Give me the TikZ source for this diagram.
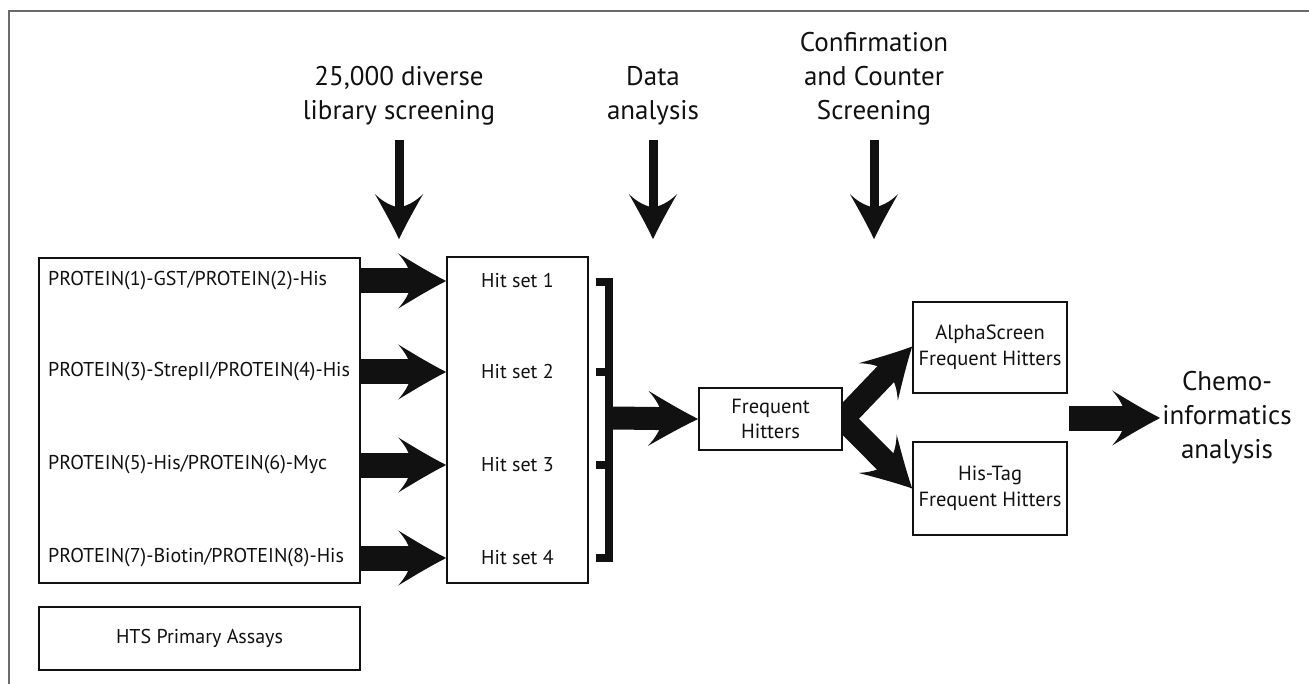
\documentclass[tikz,border=0pt]{standalone}
\usepackage{fontspec}
\setmainfont{PT Sans}
\usetikzlibrary{arrows.meta}
\pgfdeclarelayer{behind}
\pgfsetlayers{behind,main}
\newdimen\swL
\newdimen\swH
\pgfdeclarearrow{
  name = Swoop,
  parameters = {\the\pgfarrowlength,\the\pgfarrowwidth},
  setup code = {
    \swL=\pgfarrowlength
    \swH=0.5\pgfarrowwidth
    \pgfarrowssettipend{\swL}
    \pgfarrowssetbackend{0pt}
    \pgfarrowssetlineend{0.5\swL}
    \pgfarrowssavethe\swL
    \pgfarrowssavethe\swH
  },
  drawing code = {
    \pgfpathmoveto{\pgfpoint{\swL}{0pt}}
    \pgfpathcurveto{\pgfpoint{0.66\swL}{0.3\swH}}{\pgfpoint{0.32\swL}{0.66\swH}}{\pgfpoint{0pt}{\swH}}
    \pgfpathcurveto{\pgfpoint{0.14\swL}{0.72\swH}}{\pgfpoint{0.24\swL}{0.45\swH}}{\pgfpoint{0.3\swL}{0pt}}
    \pgfpathcurveto{\pgfpoint{0.24\swL}{-0.45\swH}}{\pgfpoint{0.14\swL}{-0.72\swH}}{\pgfpoint{0pt}{-\swH}}
    \pgfpathcurveto{\pgfpoint{0.32\swL}{-0.66\swH}}{\pgfpoint{0.66\swL}{-0.3\swH}}{\pgfpoint{\swL}{0pt}}
    \pgfpathclose
    \pgfusepathqfill
  },
  defaults = {length = 48pt, width = 54pt}
}
\definecolor{ink}{HTML}{111111}
\definecolor{framegray}{HTML}{6B6B6B}
\tikzset{
  box/.style={draw=ink, line width=1.6pt, fill=white, inner sep=0pt},
  boxtext/.style={font=\fontsize{20}{25}\selectfont, text=ink, inner sep=0pt},
  midbox/.style={box, align=center, font=\fontsize{20.5}{25.5}\selectfont, text=ink},
  biglabel/.style={font=\fontsize{27}{34}\selectfont, text=ink, align=center, inner sep=0pt},
  fatarrow/.style={draw=ink, line width=25pt, -{Swoop[length=48pt,width=55pt]}},
  diagarrow/.style={draw=ink, line width=23pt, -{Swoop[length=49pt,width=54pt]}},
  downarrow/.style={draw=ink, line width=9pt, -{Swoop[length=45pt,width=48pt]}},
  bracket/.style={draw=ink, line width=8pt, miter limit=10}
}
\begin{document}
\begin{tikzpicture}[x=1pt, y=-1pt]
\begin{pgfonlayer}{behind}
\fill[white] (0,0) rectangle (1309,684);
\end{pgfonlayer}
\useasboundingbox (0,0) rectangle (1309,684);
% frame (top and left only)
\draw[framegray, line width=2pt] (9,684) -- (9,11) -- (1309,11);

% top labels
\node[biglabel] (lib) at (399,96) {25,000 diverse\\library screening};
\node[biglabel] (data) at (653,96) {Data\\analysis};
\node[biglabel] (conf) at (874,79) {Confirmation\\and Counter\\Screening};

% boxes
\node[box, minimum width=321pt, minimum height=325pt] (assays) at (199.5,420.5) {};
\node[box, minimum width=321pt, minimum height=63pt] (hts) at (199.5,638.5) {};
\node[boxtext] at (hts) {HTS Primary Assays};
\node[box, minimum width=141pt, minimum height=326pt] (hits) at (517.5,420) {};
\node[midbox, minimum width=143pt, minimum height=62pt] (freq) at (770.5,419) {Frequent\\Hitters};
\node[midbox, minimum width=154pt, minimum height=91pt] (alpha) at (990,347.5) {AlphaScreen\\Frequent Hitters};
\node[midbox, minimum width=154pt, minimum height=93pt] (his) at (990,488.5) {His-Tag\\Frequent Hitters};

% protein texts
\node[boxtext, anchor=west] (p1) at (48,281) {PROTEIN(1)-GST/PROTEIN(2)-His};
\node[boxtext, anchor=west] (p2) at (48,372) {PROTEIN(3)-StrepII/PROTEIN(4)-His};
\node[boxtext, anchor=west] (p3) at (48,465) {PROTEIN(5)-His/PROTEIN(6)-Myc};
\node[boxtext, anchor=west] (p4) at (48,558) {PROTEIN(7)-Biotin/PROTEIN(8)-His};

% hit set texts
\node[boxtext] (h1) at (517.5,281) {Hit set 1};
\node[boxtext] (h2) at (517.5,372) {Hit set 2};
\node[boxtext] (h3) at (517.5,465) {Hit set 3};
\node[boxtext] (h4) at (517.5,558) {Hit set 4};

% chemo text
\node[biglabel, inner sep=2pt] (chemo) at (1227,418) {Chemo-\\informatics\\analysis};

% down arrows
\draw[downarrow, shorten <=14pt, shorten >=17pt] (lib.south) -- (lib.south |- hits.north);
\draw[downarrow, shorten <=14pt, shorten >=17pt] (data.south) -- (data.south |- hits.north);
\draw[downarrow, shorten <=14pt, shorten >=17pt] (conf.south) -- (conf.south |- hits.north);

% horizontal arrows assays -> hits
\draw[fatarrow] (p1 -| assays.east) -- (p1 -| hits.west);
\draw[fatarrow] (p2 -| assays.east) -- (p2 -| hits.west);
\draw[fatarrow] (p3 -| assays.east) -- (p3 -| hits.west);
\draw[fatarrow] (p4 -| assays.east) -- (p4 -| hits.west);

% bracket
\coordinate (bT) at (609,282);
\coordinate (bB) at (609,558);
\coordinate (bM) at (613,418);
\draw[bracket] (596,282) -- (bT) -- (bB) -- (596,558);
\draw[bracket] (596,372) -- (609,372);
\draw[bracket] (596,465) -- (609,465);
\draw[draw=ink, line width=23pt, -{Swoop[length=50pt,width=55pt]}] (bM) -- (freq.west);

% diagonal arrows, behind the Frequent Hitters box
\begin{pgfonlayer}{behind}
\draw[diagarrow] (freq.east) -- ([yshift=1pt]alpha.west);
\draw[diagarrow] (freq.east) -- (his.west);
\end{pgfonlayer}

% chemo arrow
\coordinate (cA) at (1069,418);
\draw[fatarrow] (cA) -- (chemo.west);
\end{tikzpicture}
\end{document}
